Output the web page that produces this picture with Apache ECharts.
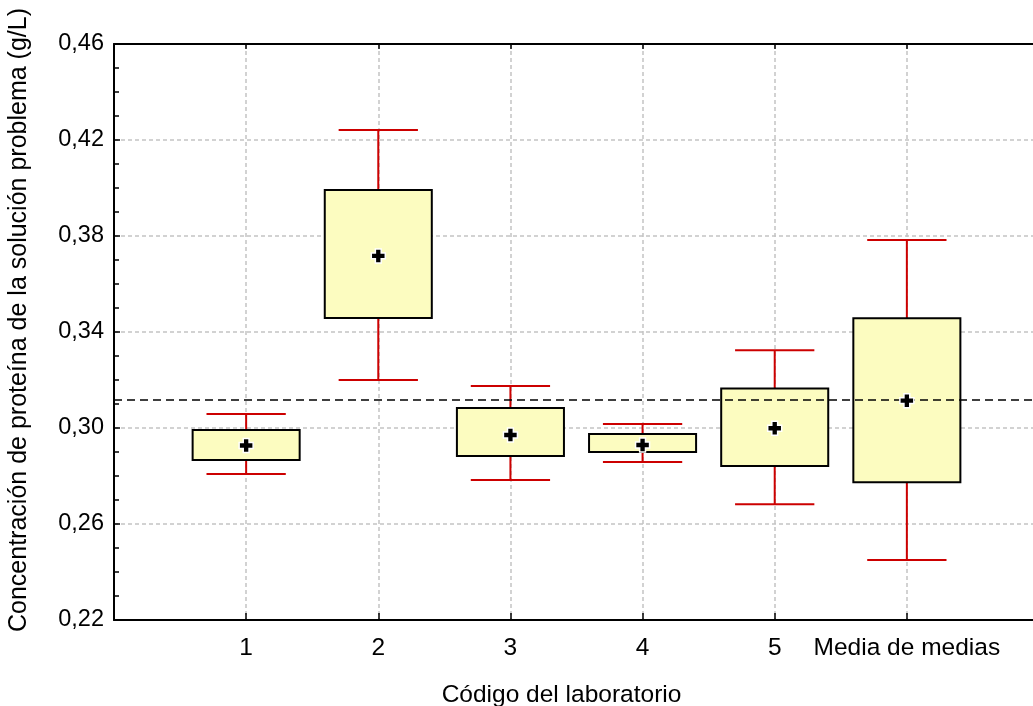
<!DOCTYPE html>
<html>
<head>
<meta charset="utf-8">
<script src="https://cdn.jsdelivr.net/npm/echarts@6/dist/echarts.min.js"></script>
<style>
  html, body { margin: 0; padding: 0; background: #fff; }
  #chart { width: 1033px; height: 706px; }
</style>
</head>
<body>
<div id="chart"></div>
<script>
const categories = ['1', '2', '3', '4', '5', 'Media de medias'];
const whiskerLow  = [0.2808, 0.3200, 0.2783, 0.2858, 0.2682, 0.2450];
const boxLow      = [0.2867, 0.3458, 0.2883, 0.2900, 0.2842, 0.2774];
const means       = [0.2927, 0.3717, 0.2971, 0.2929, 0.2999, 0.3114];
const boxHigh     = [0.2992, 0.3992, 0.3083, 0.2975, 0.3165, 0.3457];
const whiskerHigh = [0.3058, 0.4242, 0.3175, 0.3017, 0.3324, 0.3783];
const referenceValue = 0.3117;
const yTicks = [0.22, 0.26, 0.30, 0.34, 0.38, 0.42, 0.46];

const FONT = '"Liberation Sans", Arial, sans-serif';
const BOX_HALF = 0.405;
const CAP_HALF = 0.30;
const X_MAX = 7;

const boxData = categories.map((c, i) => [i + 1, whiskerLow[i], boxLow[i], means[i], boxHigh[i], whiskerHigh[i]]);
const meanData = categories.map((c, i) => [i + 1, means[i]]);

function renderBox(params, api) {
  const x = api.value(0);
  const wl = api.value(1), q1 = api.value(2), q3 = api.value(4), wh = api.value(5);
  const pL = api.coord([x - BOX_HALF, q3]);
  const pR = api.coord([x + BOX_HALF, q1]);
  const cTop = api.coord([x, wh]);
  const cBot = api.coord([x, wl]);
  const bTop = api.coord([x, q3]);
  const bBot = api.coord([x, q1]);
  const capL = api.coord([x - CAP_HALF, wh])[0];
  const capR = api.coord([x + CAP_HALF, wh])[0];
  const red = '#CC0000';
  const lineStyle = { stroke: red, lineWidth: 2 };
  return {
    type: 'group',
    children: [
      { type: 'line', shape: { x1: cTop[0], y1: cTop[1], x2: bTop[0], y2: bTop[1] }, style: lineStyle },
      { type: 'line', shape: { x1: cBot[0], y1: cBot[1], x2: bBot[0], y2: bBot[1] }, style: lineStyle },
      { type: 'line', shape: { x1: capL, y1: cTop[1], x2: capR, y2: cTop[1] }, style: lineStyle },
      { type: 'line', shape: { x1: capL, y1: cBot[1], x2: capR, y2: cBot[1] }, style: lineStyle },
      { type: 'rect', shape: { x: pL[0], y: pL[1], width: pR[0] - pL[0], height: pR[1] - pL[1] },
        style: { fill: '#FCFCC0', stroke: '#000', lineWidth: 2 } }
    ]
  };
}

const chart = echarts.init(document.getElementById('chart'), null, { renderer: 'canvas' });
chart.setOption({
  animation: false,
  backgroundColor: '#fff',
  grid: { left: 114, top: 44, width: 925, height: 576, outerBoundsMode: 'none', containLabel: false },
  xAxis: [{
    type: 'value', min: 0, max: X_MAX, interval: 1,
    name: 'Código del laboratorio', nameLocation: 'middle', nameGap: 63,
    nameTextStyle: { fontFamily: FONT, fontSize: 24.5, color: '#000', padding: [0, 30, 0, 0] },
    axisLine: { show: true, lineStyle: { color: '#000', width: 2 } },
    axisTick: { show: true, inside: true, length: 7, lineStyle: { color: '#000', width: 1.5 } },
    axisLabel: {
      fontFamily: FONT, fontSize: 24.5, color: '#000', margin: 16,
      formatter: v => (Number.isInteger(v) && v >= 1 && v <= categories.length) ? categories[v - 1] : ''
    },
    splitLine: { show: true, lineStyle: { color: '#C4C4C4', type: [4, 3], width: 1.5 } }
  }, {
    type: 'value', min: 0, max: X_MAX, interval: 1, position: 'top',
    axisLine: { show: true, lineStyle: { color: '#000', width: 2 } },
    axisTick: { show: true, inside: true, length: 5, lineStyle: { color: '#000', width: 1.5 } },
    axisLabel: { show: false },
    splitLine: { show: false }
  }],
  yAxis: {
    type: 'value', min: yTicks[0], max: yTicks[yTicks.length - 1], interval: 0.04,
    name: 'Concentración de proteína de la solución problema (g/L)', nameLocation: 'middle', nameGap: 82,
    nameTextStyle: { fontFamily: FONT, fontSize: 25, color: '#000', padding: [0, 0, 0, 24] },
    axisLine: { show: true, lineStyle: { color: '#000', width: 2 } },
    axisTick: { show: true, inside: true, length: 6, lineStyle: { color: '#000', width: 1.5 } },
    minorTick: { show: true, splitNumber: 4, length: 5, lineStyle: { color: '#000', width: 1.5 } },
    axisLabel: {
      fontFamily: FONT, fontSize: 23.5, color: '#000', margin: 10,
      formatter: v => v.toFixed(2).replace('.', ',')
    },
    splitLine: { show: true, lineStyle: { color: '#C4C4C4', type: [4, 3], width: 1.5 } }
  },
  series: [{
    type: 'custom',
    renderItem: renderBox,
    data: boxData,
    encode: { x: 0, y: [1, 2, 3, 4, 5] },
    z: 2
  }, {
    type: 'scatter',
    data: meanData,
    symbol: 'path://M3.5,0H8.5V3.5H12V8.5H8.5V12H3.5V8.5H0V3.5H3.5Z',
    symbolSize: 14,
    itemStyle: { color: '#000', borderColor: '#fff', borderWidth: 1.5, opacity: 1 },
    z: 5,
    markLine: {
      silent: true, symbol: 'none', label: { show: false }, precision: 6,
      lineStyle: { color: '#000', type: [8, 5], width: 1.5 },
      data: [{ yAxis: referenceValue }]
    }
  }]
});
</script>
</body>
</html>
